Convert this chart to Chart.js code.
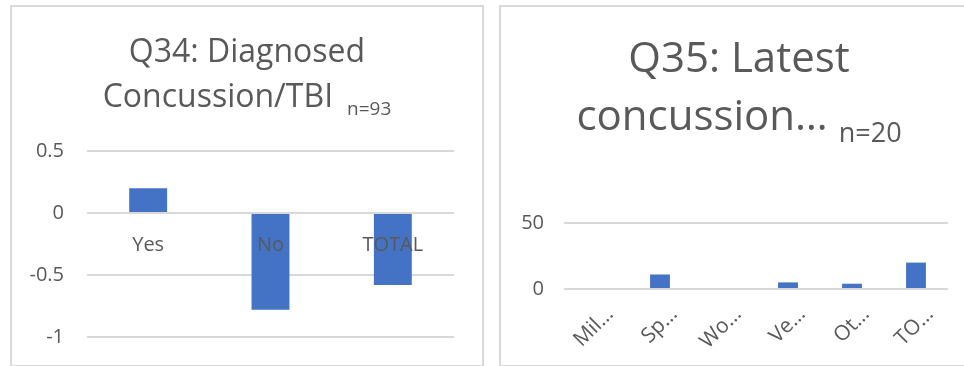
<!DOCTYPE html>
<html lang="en">
<head>
    <meta charset="UTF-8">
    <title>Q34 / Q35 concussion charts</title>
    <script src="https://cdn.jsdelivr.net/npm/chart.js"></script>
    <style>
        body, html {
            margin: 0;
            padding: 0;
            width: 964px;
            height: 366px;
            overflow: hidden;
            background-color: #ffffff;
            font-family: "Open Sans", sans-serif;
        }
        .panel {
            position: absolute;
            box-sizing: border-box;
            border: 2px solid #d9d9d9;
            background-color: #ffffff;
        }
        #panel34 { left: 10px; top: 5px; width: 474px; height: 362px; }
        #panel35 { left: 499px; top: 5px; width: 480px; height: 362px; }
        canvas { display: block; }
    </style>
</head>
<body>
    <div class="panel" id="panel34"><canvas id="chart34" width="470" height="358"></canvas></div>
    <div class="panel" id="panel35"><canvas id="chart35" width="476" height="358"></canvas></div>

    <script>
        // Q34 data
        const q34Labels = ['Yes', 'No', 'TOTAL'];
        const q34Values = [0.2, -0.78, -0.58];
        const q34YTicks = [-1, -0.5, 0, 0.5];

        // Q35 data
        const q35Labels = ['Mil…', 'Sp…', 'Wo…', 'Ve…', 'Ot…', 'TO…'];
        const q35Values = [0, 11, 0, 5, 4, 20];
        const q35YTicks = [0, 50];

        const barBlue = '#4472c4';
        const textGray = '#595959';
        const gridGray = '#d9d9d9';
        const fontFamily = '"Open Sans", sans-serif';

        // Excel-like title: two lines, with a small "n=" note after the second line
        const excelTitle = {
            id: 'excelTitle',
            afterDraw(chart, args, opts) {
                const ctx = chart.ctx;
                const cx = chart.width / 2;
                ctx.save();
                ctx.fillStyle = textGray;
                ctx.textBaseline = 'alphabetic';
                ctx.font = opts.size + 'px ' + fontFamily;
                ctx.textAlign = 'center';
                ctx.fillText(opts.line1, cx, opts.y1);

                const w2 = ctx.measureText(opts.line2).width;
                ctx.font = opts.subSize + 'px ' + fontFamily;
                const ws = ctx.measureText(opts.sub).width;
                const x0 = cx - (w2 + opts.gap + ws) / 2;

                ctx.textAlign = 'left';
                ctx.font = opts.size + 'px ' + fontFamily;
                ctx.fillText(opts.line2, x0, opts.y2);
                ctx.font = opts.subSize + 'px ' + fontFamily;
                ctx.fillText(opts.sub, x0 + w2 + opts.gap, opts.ySub);
                ctx.restore();
            }
        };

        // fixed axis width; keep the tick padding from pushing the plot area in
        const fixYAxis = width => scale => {
            scale.width = width;
            scale.paddingTop = 12;
            scale.paddingBottom = 12;
        };

        Chart.defaults.font.family = fontFamily;
        Chart.defaults.color = textGray;
        Chart.defaults.animation = false;

        new Chart(document.getElementById('chart34'), {
            type: 'bar',
            data: {
                labels: q34Labels,
                datasets: [{
                    data: q34Values,
                    backgroundColor: barBlue,
                    categoryPercentage: 1,
                    barPercentage: 0.31
                }]
            },
            plugins: [excelTitle],
            options: {
                responsive: false,
                layout: { padding: { left: 0, right: 28, top: 144, bottom: 28 } },
                scales: {
                    x: {
                        position: { y: 0 },
                        grid: { display: false },
                        border: { display: false },
                        ticks: { font: { size: 20 }, color: textGray, padding: 12, z: 1 }
                    },
                    y: {
                        min: -1,
                        max: 0.5,
                        afterBuildTicks: scale => { scale.ticks = q34YTicks.map(v => ({ value: v })); },
                        afterFit: fixYAxis(75),
                        grid: { color: gridGray, lineWidth: 2, drawTicks: false },
                        border: { display: false },
                        ticks: {
                            font: { size: 20 },
                            color: textGray,
                            padding: 23,
                            callback: v => String(v)
                        }
                    }
                },
                plugins: {
                    legend: { display: false },
                    tooltip: { enabled: false },
                    excelTitle: {
                        line1: 'Q34: Diagnosed',
                        line2: 'Concussion/TBI',
                        sub: 'n=93',
                        size: 32,
                        subSize: 19,
                        gap: 14,
                        y1: 55,
                        y2: 100,
                        ySub: 108
                    }
                }
            }
        });

        new Chart(document.getElementById('chart35'), {
            type: 'bar',
            data: {
                labels: q35Labels,
                datasets: [{
                    data: q35Values,
                    backgroundColor: barBlue,
                    categoryPercentage: 1,
                    barPercentage: 0.31
                }]
            },
            plugins: [excelTitle],
            options: {
                responsive: false,
                layout: { padding: { left: 0, right: 29, top: 216, bottom: 0 } },
                scales: {
                    x: {
                        grid: { display: false },
                        border: { display: false },
                        afterFit: scale => { scale.height = 76; },
                        ticks: {
                            font: { size: 21 },
                            color: textGray,
                            minRotation: 45,
                            maxRotation: 45,
                            autoSkip: false,
                            padding: 5,
                            labelOffset: 14
                        }
                    },
                    y: {
                        min: 0,
                        max: 50,
                        afterBuildTicks: scale => { scale.ticks = q35YTicks.map(v => ({ value: v })); },
                        afterFit: fixYAxis(63),
                        grid: { color: gridGray, lineWidth: 2, drawTicks: false },
                        border: { display: false },
                        ticks: { font: { size: 20 }, color: textGray, padding: 20 }
                    }
                },
                plugins: {
                    legend: { display: false },
                    tooltip: { enabled: false },
                    excelTitle: {
                        line1: 'Q35: Latest',
                        line2: 'concussion…',
                        sub: 'n=20',
                        size: 42,
                        subSize: 27,
                        gap: 11,
                        y1: 65,
                        y2: 123,
                        ySub: 135
                    }
                }
            }
        });
    </script>
</body>
</html>
